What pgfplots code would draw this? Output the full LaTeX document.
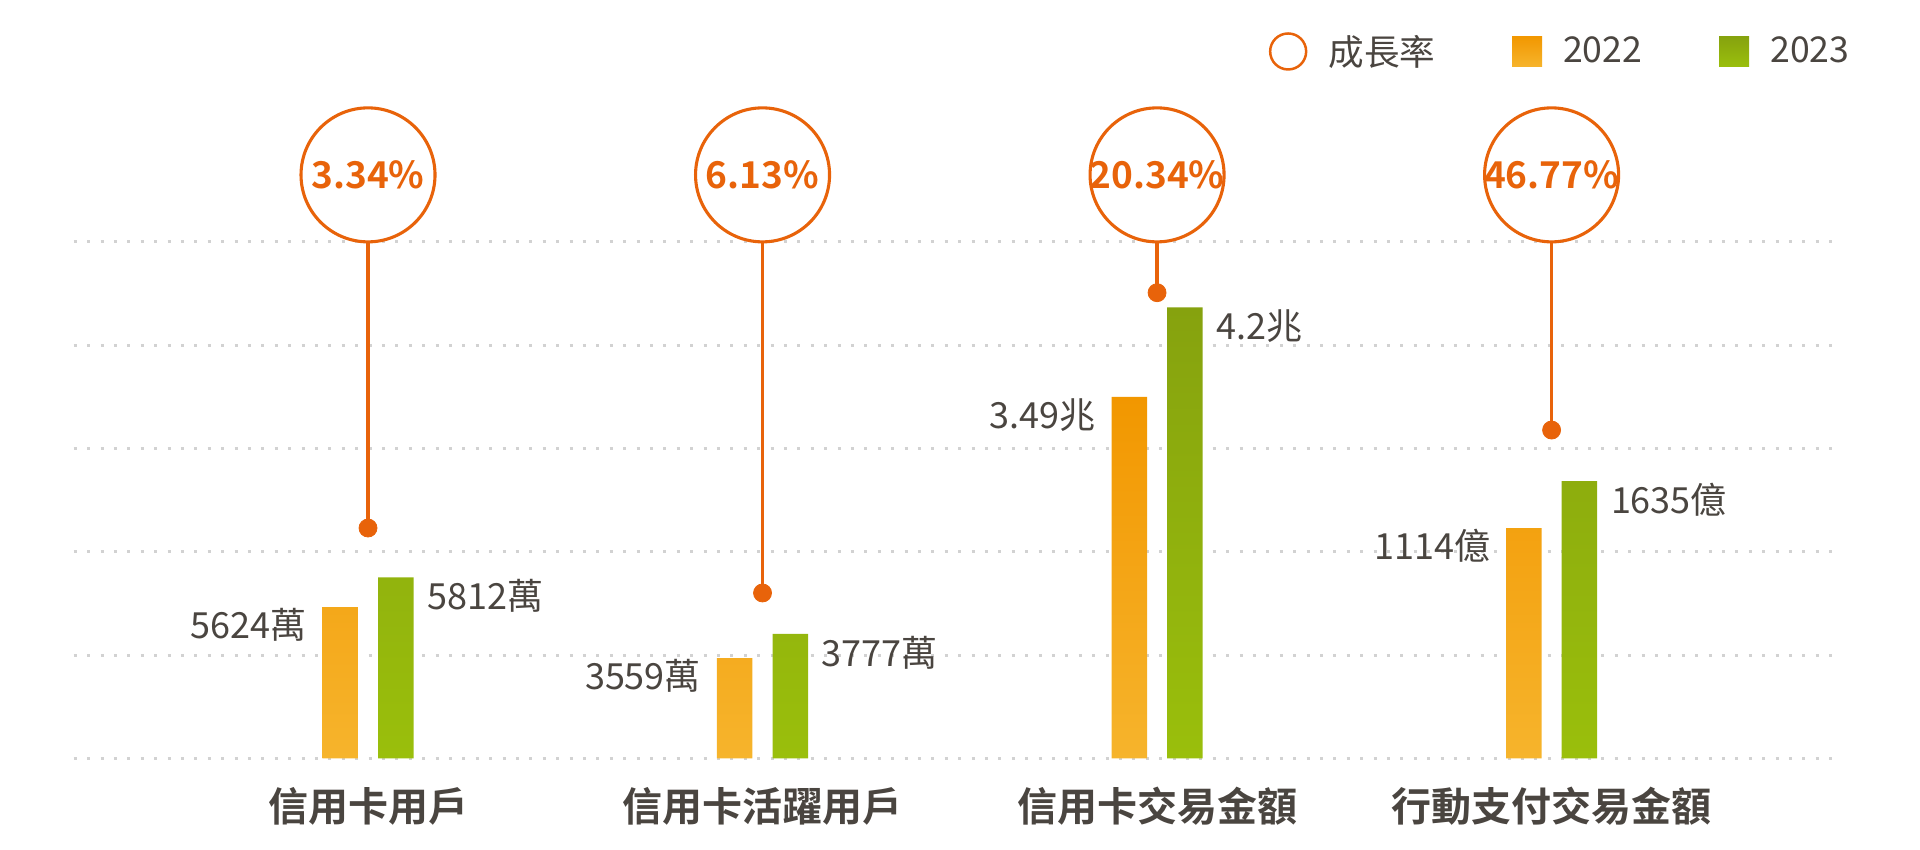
\documentclass[border=0pt]{standalone}
\usepackage{fontspec}
\setmainfont{Noto Sans CJK TC}[BoldFont={* Bold}]
\usepackage{pgfplots}
\pgfplotsset{compat=1.18}
\definecolor{orngtop}{HTML}{F29700}
\definecolor{orngbot}{HTML}{F6B42C}
\definecolor{grntop}{HTML}{86A20E}
\definecolor{grnbot}{HTML}{9ABF0C}
\definecolor{accent}{HTML}{E8630A}
\definecolor{txt}{HTML}{4A4540}
\definecolor{gridc}{HTML}{D2D2D2}
\begin{document}
\begin{tikzpicture}
\useasboundingbox (0,0) rectangle (960pt,425pt);
\begin{axis}[
  at={(36.85pt,45.85pt)}, anchor=south west,
  scale only axis, width=882.15pt, height=258.15pt,
  xmin=-0.746, xmax=3.726, ymin=0, ymax=5,
  clip=false,
  axis line style={draw=none},
  major tick length=0pt,
  ytick={0,1,2,3,4,5}, yticklabels={},
  ymajorgrids,
  grid style={gridc, line width=1.5pt, dash pattern=on 1.5pt off 5.2pt},
  xtick={0,1,2,3},
  xticklabels={信用卡用戶,信用卡活躍用戶,信用卡交易金額,行動支付交易金額},
  xticklabel style={anchor=center, yshift=-23.9pt, font=\bfseries\fontsize{20pt}{22pt}\selectfont, text=txt, inner sep=0pt},
  legend columns=3,
  legend style={at={(1.0066,1.369)}, anchor=east, draw=none, fill=none, inner sep=0pt,
    nodes={inner sep=0pt, font=\fontsize{17.8pt}{19pt}\selectfont, text=txt},
    /tikz/every odd column/.style={column sep=10.5pt},
    /tikz/every even column/.style={column sep=38.5pt}},
  legend cell align=left,
]
% 2022 bars
\addplot[forget plot, ybar, bar width=17.75pt, bar shift=-13.9pt, draw=none,
  top color=orngtop, bottom color=orngbot,
  nodes near coords, point meta=explicit symbolic,
  every node near coord/.append style={anchor=east, xshift=-30.6pt, yshift=-9pt, inner sep=0pt,
    font=\fontsize{18pt}{20pt}\selectfont, text=txt}]
  coordinates {(0,1.465) [5624萬] (1,0.971) [3559萬] (2,3.501) [3.49兆] (3,2.230) [1114億]};
% 2023 bars
\addplot[forget plot, ybar, bar width=17.75pt, bar shift=13.9pt, draw=none,
  top color=grntop, bottom color=grnbot,
  nodes near coords, point meta=explicit symbolic,
  every node near coord/.append style={anchor=west, xshift=29.5pt, yshift=-9.3pt, inner sep=0pt,
    font=\fontsize{18pt}{20pt}\selectfont, text=txt}]
  coordinates {(0,1.751) [5812萬] (1,1.204) [3777萬] (2,4.367) [4.2兆] (3,2.683) [1635億]};
% stems and dots
\addplot[forget plot, only marks, mark=*, mark size=4.5pt, color=accent,
  error bars/.cd, y dir=plus, y explicit, error mark=none,
  error bar style={line width=1.7pt, color=accent}]
  coordinates {(0,2.230) +- (0,2.76) (1,1.601) +- (0,3.389) (2,4.509) +- (0,0.481) (3,3.179) +- (0,1.811)};
% growth circles
\addplot[forget plot, only marks, mark=*, mark size=33.5pt,
  mark options={draw=accent, fill=white, line width=1.55pt},
  nodes near coords, point meta=explicit symbolic,
  every node near coord/.append style={anchor=center, inner sep=0pt,
    font=\bfseries\fontsize{18.5pt}{20pt}\selectfont, text=accent}]
  coordinates {(0,5.65) [3.34\%] (1,5.65) [6.13\%] (2,5.65) [20.34\%] (3,5.65) [46.77\%]};
\addlegendimage{draw=none, legend image code/.code={\draw[accent, line width=1.25pt] (9pt,0pt) circle (9pt);}}
\addlegendentry{成長率}
\addlegendimage{draw=none, legend image code/.code={\path[draw=none, top color=orngtop, bottom color=orngbot] (0pt,-7.6pt) rectangle (15pt,7.6pt);}}
\addlegendentry{2022}
\addlegendimage{draw=none, legend image code/.code={\path[draw=none, top color=grntop, bottom color=grnbot] (0pt,-7.6pt) rectangle (15pt,7.6pt);}}
\addlegendentry{2023}
\end{axis}
\end{tikzpicture}
\end{document}
